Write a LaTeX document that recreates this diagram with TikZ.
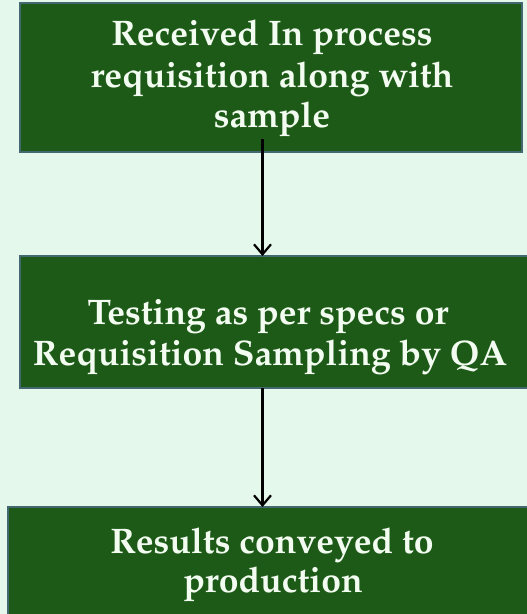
\documentclass[tikz,border=0pt]{standalone}
\usepackage[T1]{fontenc}
\renewcommand{\rmdefault}{ppl}
\usetikzlibrary{arrows.meta}
\definecolor{pagebg}{RGB}{228,248,235}
\definecolor{boxfill}{RGB}{29,90,23}
\definecolor{boxedge}{RGB}{68,104,112}
\definecolor{boxtext}{RGB}{242,252,240}
\tikzset{
  stepbox/.style={draw=boxedge, fill=boxfill, line width=2.4pt, rectangle,
    inner sep=0pt, outer sep=0pt},
  steptext/.style={text=boxtext, anchor=base, inner sep=0pt,
    font=\fontsize{35.5}{41}\selectfont\bfseries},
  flow/.style={draw=black, line width=2.2pt,
    -{Straight Barb[length=10pt,width=17pt,line width=2.2pt]}}
}
\begin{document}
\begin{tikzpicture}[x=1pt, y=-1pt]
  \useasboundingbox (0,0) rectangle (527,614);
  \fill[pagebg] (0,0) rectangle (527,614);
  \begin{scope}
    \clip (0,0) rectangle (527,614);
    % process boxes
    \node[stepbox, minimum width=502pt, minimum height=149pt] (b1) at (271,77.5) {};
    \node[stepbox, minimum width=520pt, minimum height=132pt] (b2) at (280,322) {};
    \node[stepbox, minimum width=532pt, minimum height=130pt] (b3) at (274,572) {};
    % box texts
    \node[steptext] (t11) at (272,45)  {Received In process};
    \node[steptext] (t12) at (272,87)  {requisition along with};
    \node[steptext] (t13) at (272,127) {sample};
    \node[steptext] (t21) at (268,324) {Testing as per specs or};
    \node[steptext] (t22) at (270,365) {Requisition Sampling by QA};
    \node[steptext] (t31) at (272,553) {Results conveyed to};
    \node[steptext] (t32) at (273,592) {production};
    % connectors
    \coordinate (s1) at (262.5,139);
    \coordinate (s2) at (262.5,388);
    \draw[flow] (s1) -- (s1 |- b2.north);
    \draw[flow] (s2) -- (s2 |- b3.north);
  \end{scope}
\end{tikzpicture}
\end{document}
